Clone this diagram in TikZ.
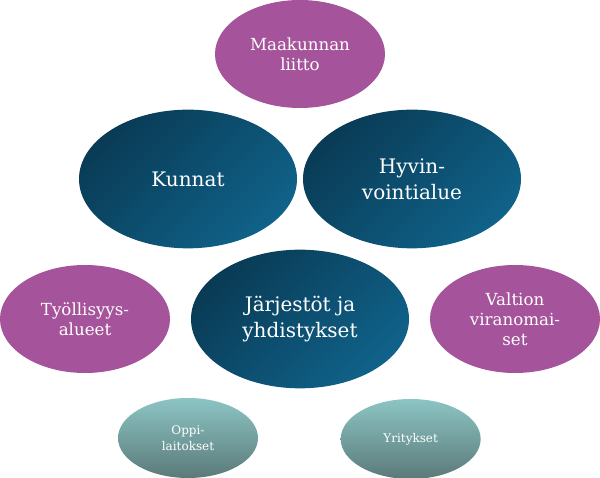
\documentclass[tikz,border=0pt]{standalone}
\usepackage{fontspec}
\setmainfont{DejaVu Serif}
\usetikzlibrary{shapes.geometric,positioning}
\definecolor{violetti}{HTML}{A5539A}
\definecolor{sinitumma}{HTML}{093B55}
\definecolor{sinivaalea}{HTML}{10628A}
\definecolor{turkoosi}{HTML}{8CC5C4}
\definecolor{harmaavihrea}{HTML}{5A7A79}
\tikzset{
    %Define common style for all ellipses
    pallo/.style={
           ellipse,
           inner sep=0pt,
           text=white,
           align=center},
    %Define style for the big blue ellipses
    iso/.style={
           pallo,
           minimum width=163.5pt,
           minimum height=104pt,
           top color=sinitumma,
           bottom color=sinivaalea,
           shading angle=45,
           font=\fontsize{15}{19.5}\selectfont},
    %Define style for the purple ellipses
    keski/.style={
           pallo,
           fill=violetti,
           minimum width=127.5pt,
           minimum height=81pt,
           font=\fontsize{12.5}{15}\selectfont},
    %Define style for the small ellipses
    pieni/.style={
           pallo,
           minimum width=105pt,
           minimum height=60pt,
           top color=turkoosi,
           bottom color=harmaavihrea,
           font=\fontsize{9}{12}\selectfont}
}

\begin{document}
\begin{tikzpicture}[on grid]
  \useasboundingbox (0,0) rectangle (450pt,358.5pt);
  \node[iso] (jarjestot) at (225pt,119.25pt) {Järjestöt ja\\yhdistykset};
  \node[iso,above left=105pt and 84pt of jarjestot] (kunnat) {Kunnat};
  \node[iso,above right=105pt and 84pt of jarjestot] (hyvinvointi) {Hyvin-\\vointialue};
  \node[keski,above=198.75pt of jarjestot] (maakunta) {Maakunnan\\liitto};
  \node[keski,left=161.25pt of jarjestot] (tyollisyys) {Työllisyys-\\alueet};
  \node[keski,right=161.25pt of jarjestot] (valtio) {Valtion\\viranomai-\\set};
  \node[pieni,below left=89.25pt and 84pt of jarjestot] (oppilaitokset) {Oppi-\\laitokset};
  \node[pieni,below right=90pt and 83pt of jarjestot] (yritykset) {Yritykset};
\end{tikzpicture}
\end{document}
